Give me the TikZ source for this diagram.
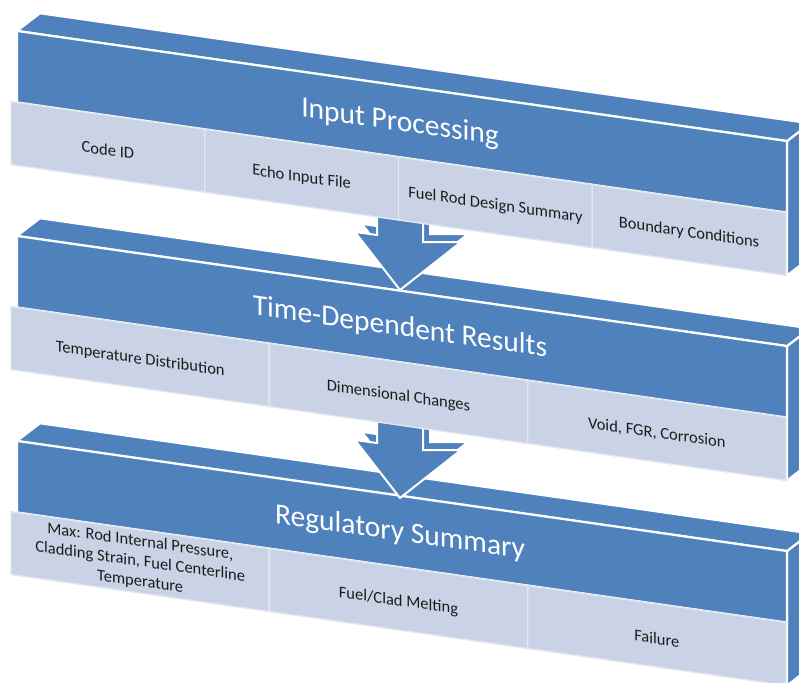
\documentclass[tikz,border=0pt]{standalone}
\usepackage{fontspec}
\setmainfont{Carlito}
\definecolor{bandblue}{RGB}{79,129,189}
\definecolor{cellfill}{RGB}{201,211,229}
\definecolor{celledge}{RGB}{226,231,241}
\definecolor{txtdark}{RGB}{28,28,28}
\begin{document}
\begin{tikzpicture}[x=1pt,y=-1pt,
  face/.style={fill=bandblue,draw=white,line width=2.2pt,line join=round},
  frontface/.style={fill=bandblue,draw=white,line width=2.2pt,minimum width=770pt,minimum height=71.5pt,inner sep=0pt,transform shape},
  cell4/.style={fill=cellfill,draw=celledge,line width=1.4pt,minimum width=193.75pt,minimum height=63pt,inner sep=0pt,transform shape},
  cell3/.style={fill=cellfill,draw=celledge,line width=1.4pt,minimum width=258.33pt,minimum height=63pt,inner sep=0pt,transform shape},
  titletext/.style={text=white,font=\fontsize{29.5}{32}\selectfont,anchor=base,inner sep=0pt,transform shape},
  lbl/.style={text=txtdark,font=\fontsize{16.5}{20}\selectfont,align=center,inner sep=0pt,transform shape},
  arrowface/.style={fill=bandblue,draw=white,line width=2pt,line join=miter}]
\useasboundingbox (0,0) rectangle (799,682);
\clip (0,0) rectangle (799,682);

% ---------- band 3 : Regulatory Summary ----------
\begin{scope}[shift={(0,410)},yslant=-0.143]
  \draw[face] (787,28.5) -- (810,7.5) -- (810,142) -- (787,163) -- cycle;
  \draw[face] (17,28.5) -- (40,7.5) -- (810,7.5) -- (787,28.5) -- cycle;
  \node[frontface] (rs) at (402,64.25) {};
  \node[titletext] (rst) at (400,73.7) {Regulatory Summary};
  \node[cell3] (c31) at (140.2,131.5) {};
  \node[cell3] (c32) at (398.5,131.5) {};
  \node[cell3] (c33) at (656.8,131.5) {};
  \node[lbl] (l31) at (140.2,132) {Max: Rod Internal Pressure,\\Cladding Strain, Fuel Centerline\\Temperature};
  \node[lbl] (l32) at (398.5,134.5) {Fuel/Clad Melting};
  \node[lbl] (l33) at (656.8,134.5) {Failure};
\end{scope}

% ---------- arrow 2 ----------
\draw[arrowface] (384,407) -- (384,435) -- (362,432) -- (407,490) -- (468,442) -- (430,442) -- (430,407) -- cycle;
\draw[arrowface] (377,415) -- (377,443) -- (355,440) -- (400,498) -- (461,450) -- (423,450) -- (423,415) -- cycle;

% ---------- band 2 : Time-Dependent Results ----------
\begin{scope}[shift={(0,205)},yslant=-0.143]
  \draw[face] (787,28.5) -- (810,7.5) -- (810,142) -- (787,163) -- cycle;
  \draw[face] (17,28.5) -- (40,7.5) -- (810,7.5) -- (787,28.5) -- cycle;
  \node[frontface] (td) at (402,64.25) {};
  \node[titletext] (tdt) at (400,73.7) {Time-Dependent Results};
  \node[cell3] (c21) at (140.2,131.5) {};
  \node[cell3] (c22) at (398.5,131.5) {};
  \node[cell3] (c23) at (656.8,131.5) {};
  \node[lbl] (l21) at (140.2,134.5) {Temperature Distribution};
  \node[lbl] (l22) at (398.5,134.5) {Dimensional Changes};
  \node[lbl] (l23) at (656.8,134.5) {Void, FGR, Corrosion};
\end{scope}

% ---------- arrow 1 ----------
\draw[arrowface] (384,199) -- (384,227) -- (362,224) -- (407,282) -- (468,234) -- (430,234) -- (430,199) -- cycle;
\draw[arrowface] (377,207) -- (377,235) -- (355,232) -- (400,290) -- (461,242) -- (423,242) -- (423,207) -- cycle;

% ---------- band 1 : Input Processing ----------
\begin{scope}[yslant=-0.143]
  \draw[face] (787,28.5) -- (810,7.5) -- (810,142) -- (787,163) -- cycle;
  \draw[face] (17,28.5) -- (40,7.5) -- (810,7.5) -- (787,28.5) -- cycle;
  \node[frontface] (ip) at (402,64.25) {};
  \node[titletext] (ipt) at (400,73.7) {Input Processing};
  \node[cell4] (c11) at (107.9,131.5) {};
  \node[cell4] (c12) at (301.6,131.5) {};
  \node[cell4] (c13) at (495.4,131.5) {};
  \node[cell4] (c14) at (689.1,131.5) {};
  \node[lbl] (l11) at (107.9,134.5) {Code ID};
  \node[lbl] (l12) at (301.6,134.5) {Echo Input File};
  \node[lbl] (l13) at (495.4,134.5) {Fuel Rod Design Summary};
  \node[lbl] (l14) at (689.1,134.5) {Boundary Conditions};
\end{scope}
\end{tikzpicture}
\end{document}
